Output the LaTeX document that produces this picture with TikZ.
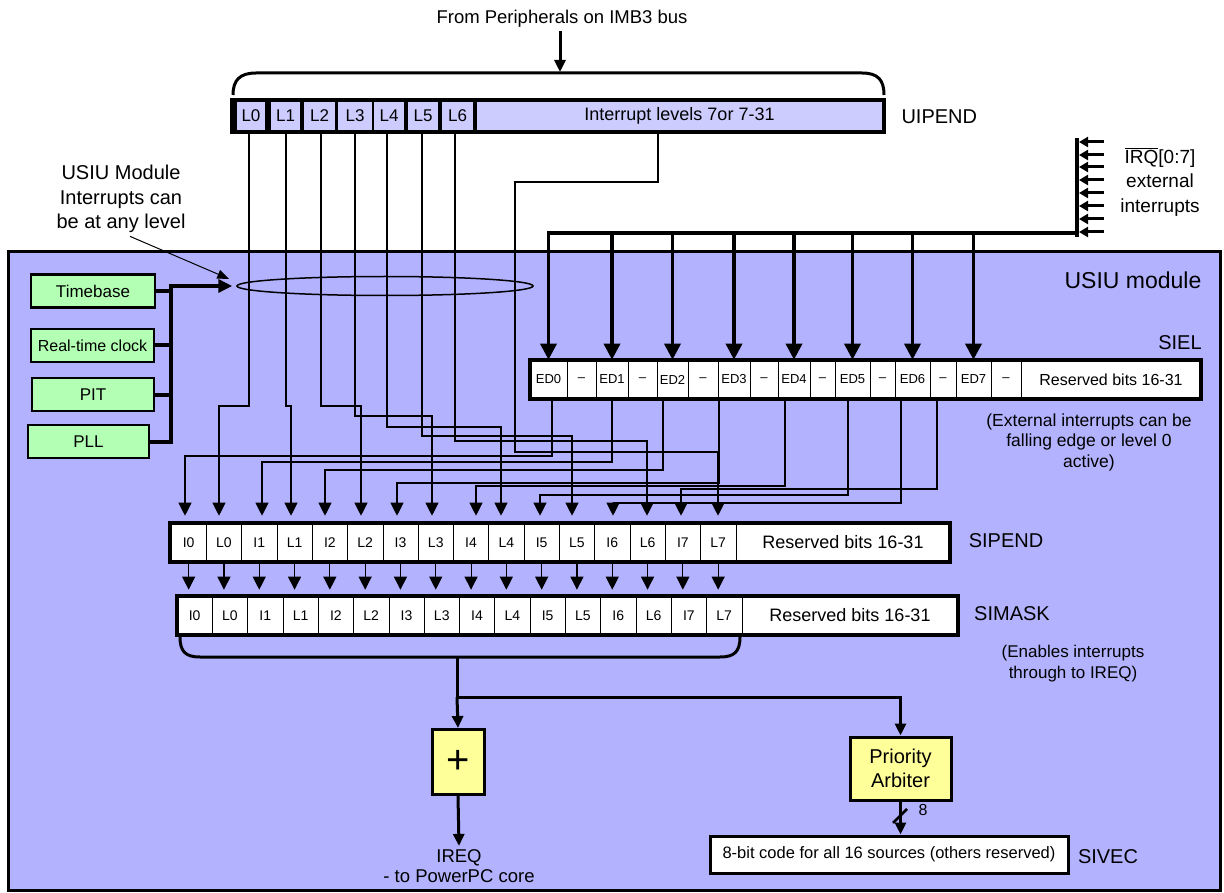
\documentclass[tikz,border=0pt]{standalone}
\usepackage{fontspec}
\setmainfont{Liberation Sans}
\usetikzlibrary{arrows.meta,shapes.geometric}
\definecolor{modbg}{RGB}{178,178,255}
\definecolor{uipcell}{RGB}{204,204,255}
\definecolor{grn}{RGB}{179,255,179}
\definecolor{ylw}{RGB}{255,255,153}
\newcommand\myfs[2]{\fontsize{#1}{#2}\selectfont}
\begin{document}
\begin{tikzpicture}[x=1pt,y=-1pt,
  wire/.style={line width=1.1pt},
  warr/.style={wire,-{Triangle[width=13pt,length=13pt]},shorten >=7pt},
  sarr/.style={wire,-{Triangle[width=13pt,length=13pt]},shorten >=6pt},
  tarr/.style={line width=3pt,-{Triangle[width=11pt,length=12pt]}},
  busarr/.style={line width=3.5pt,-{Triangle[width=16pt,length=16pt]}},
  irqarr/.style={line width=3pt,-{Triangle[width=10pt,length=9pt]}},
  ucell/.style={fill=uipcell,inner sep=0pt,minimum height=28pt,font=\myfs{17}{20}},
  pcell/.style={draw=black,line width=0.6pt,fill=white,inner sep=0pt,minimum height=39pt,minimum width=35.3pt,font=\myfs{14}{16}},
  scell/.style={draw=black,line width=0.6pt,fill=white,inner sep=0pt,minimum height=39pt,font=\myfs{13}{15}},
  greenbox/.style={draw=black,line width=2.5pt,fill=grn,inner sep=0pt,minimum height=33pt,font=\myfs{17}{20}},
  ybox/.style={draw=black,line width=3pt,fill=ylw,inner sep=0pt,align=center},
  regframe/.style={line width=3.5pt},
  lbl/.style={font=\myfs{20}{24}},
  thk/.style={line width=3pt}]
\useasboundingbox (0,0) rectangle (1224,893);
% module background
\fill[modbg] (8,252) rectangle (1220,890);
\draw[line width=3pt] (8,252) rectangle (1220,890);
\node[font=\myfs{23}{28}] (modlbl) at (1133,280) {USIU module};

% title and brace
\node[font=\myfs{18.5}{22}] (title) at (562,19) {From Peripherals on IMB3 bus};
\coordinate (bt) at (560,72);
\draw[tarr] (title.south -| bt) -- (bt);
\draw[thk] (233,95) .. controls (233,80) and (240,73) .. (256,73) -- (862,73) .. controls (878,73) and (884,80) .. (884,95);

% UIPEND
\fill[black] (230,98) rectangle (886,134);
\node[ucell,minimum width=28pt] (uL0) at (251,116) {L0};
\node[ucell,minimum width=29pt] (uL1) at (285.5,116) {L1};
\node[ucell,minimum width=31pt] (uL2) at (319.5,116) {L2};
\node[ucell,minimum width=34pt] (uL3) at (355,116) {L3};
\node[ucell,minimum width=30pt] (uL4) at (389,116) {L4};
\node[ucell,minimum width=30pt] (uL5) at (423,116) {L5};
\node[ucell,minimum width=31pt] (uL6) at (457.5,116) {L6};
\node[ucell,minimum width=405pt,font=\myfs{18}{20}] (uBig) at (679.5,116) {Interrupt levels 7or 7-31};
\node[lbl,anchor=west] (uiplbl) at (898,117) {UIPEND};

% IRQ inputs
\coordinate (irqT) at (1077,138);
\coordinate (irqB) at (1077,237);
\draw[line width=4pt] (irqT) -- (irqB);
\foreach \yy in {142,155,167,180,193,206,219,232}
  \draw[irqarr] (1104,\yy) -- (1079,\yy);
\node[font=\myfs{19}{24.5},align=center] (irqtxt) at (1160,182) {$\overline{\mbox{IRQ}}$[0:7]\\external\\interrupts};

% left sources
\node[greenbox,minimum width=124pt] (tb) at (93,291) {Timebase};
\node[greenbox,minimum width=123pt,font=\myfs{16}{18}] (rtc) at (92.5,345.5) {Real-time clock};
\node[greenbox,minimum width=122pt] (pit) at (93,394.5) {PIT};
\node[greenbox,minimum width=121pt] (pll) at (88.5,441.5) {PLL};
\coordinate (busL) at (171,286);
\draw[line width=4pt] (171,284) -- (171,444);
\foreach \b in {tb,rtc,pit,pll}
  \draw[line width=4pt] (\b.east) -- (\b.east -| busL);
\node[draw,ellipse,line width=1.5pt,minimum width=296pt,minimum height=19pt,inner sep=0pt] (ell) at (385,286) {};
\draw[line width=4pt,-{Triangle[width=13pt,length=14pt]},shorten >=4pt] (busL) -- (ell.west);
\node[font=\myfs{20}{24.5},align=center] (note) at (121,199) {USIU Module\\Interrupts can\\be at any level};
\draw[line width=1pt,-{Triangle[width=9pt,length=12pt]}] ([xshift=9pt]note.south) -- ([xshift=-7pt,yshift=7pt]ell.west);

% SIEL
\foreach \xc/\w/\nm/\tx in {548.5/37/sED0/ED0, 581.5/29/sD0/--, 612/32/sED1/ED1, 642.5/29/sD1/--, 672.5/31/sED2/ED2, 703/30/sD2/--, 734/32/sED3/ED3, 764/28/sD3/--, 794/32/sED4/ED4, 822.5/25/sD4/--, 852.5/35/sED5/ED5, 882.5/25/sD5/--, 912.5/35/sED6/ED6, 943/26/sD6/--, 973.5/35/sED7/ED7, 1006/30/sD7/--}
  \node[scell,minimum width=\w pt] (\nm) at (\xc,379.5) {\tx};
\node[scell,minimum width=180pt,font=\myfs{16}{19}] (sRes) at (1111,379.5) {Reserved bits 16-31};
\draw[regframe] (530,360) rectangle (1201,399);
\node[lbl] (siellbl) at (1180,343) {SIEL};
\node[font=\myfs{17.5}{20.5},align=center] (extnote) at (1089,442) {(External interrupts can be\\falling edge or level 0\\active)};

% external interrupt bus
\coordinate (busR) at (1077,233);
\draw[busarr] (busR) -| (sED0.north);
\foreach \n in {1,...,7}
  \draw[busarr] (sED\n.north |- busR) -- (sED\n.north);

% SIPEND and SIMASK
\foreach \i in {0,...,7} {
  \pgfmathsetmacro\xa{171+35.3*(2*\i+0.5)}
  \pgfmathsetmacro\xb{171+35.3*(2*\i+1.5)}
  \pgfmathsetmacro\xc{177+35.3*(2*\i+0.5)}
  \pgfmathsetmacro\xd{177+35.3*(2*\i+1.5)}
  \node[pcell] (pI\i) at (\xa,542.5) {I\i};
  \node[pcell] (pL\i) at (\xb,542.5) {L\i};
  \node[pcell] (mI\i) at (\xc,615.5) {I\i};
  \node[pcell] (mL\i) at (\xd,615.5) {L\i};
}
\node[pcell,minimum width=214pt,font=\myfs{18}{21}] (pRes) at (843,542.5) {Reserved bits 16-31};
\node[pcell,minimum width=216pt,font=\myfs{18}{21}] (mRes) at (850,615.5) {Reserved bits 16-31};
\draw[regframe] (170,523) rectangle (950,562);
\draw[regframe] (177,596) rectangle (958,635);
\node[lbl] (siplbl) at (1006,541) {SIPEND};
\node[lbl] (simlbl) at (1012,614) {SIMASK};
\node[font=\myfs{17}{21},align=center] (ennote) at (1073,664) {(Enables interrupts\\through to IREQ)};
\foreach \i in {0,...,7} {
  \draw[sarr] (pI\i.south) -- (pI\i.south |- mI\i.north);
  \draw[sarr] (pL\i.south) -- (pL\i.south |- mL\i.north);
}

% wires from UIPEND
\draw[warr] (uL0.south -| 249,0) |- (219,406) -- (pL0.north -| 219,0);
\draw[warr] (uL1.south -| 286,0) |- (291,406) -- (pL1.north -| 291,0);
\draw[warr] (uL2.south -| 321,0) |- (361,406) -- (pL2.north -| 361,0);
\draw[warr] (uL3.south -| 355,0) |- (432,416) -- (pL3.north -| 432,0);
\draw[warr] (uL4.south -| 387,0) |- (501,427) -- (pL4.north -| 501,0);
\draw[warr] (uL5.south -| 422,0) |- (572,436) -- (pL5.north -| 572,0);
\draw[warr] (uL6.south -| 455,0) |- (647,441) -- (pL6.north -| 647,0);
\draw[warr] (uBig.south -| 658,0) |- (515,182) |- (718,452) -- (pL7.north -| 718,0);

% wires from SIEL
\draw[warr] (sED0.south -| 552,0) |- (185,456) -- (pI0.north -| 185,0);
\draw[warr] (sED1.south -| 612,0) |- (262,462) -- (pI1.north -| 262,0);
\draw[warr] (sED2.south -| 663,0) |- (325,470) -- (pI2.north -| 325,0);
\draw[warr] (sED3.south -| 719,0) |- (397,483) -- (pI3.north -| 397,0);
\draw[warr] (sED4.south -| 785,0) |- (476,486) -- (pI4.north -| 476,0);
\draw[warr] (sED5.south -| 848,0) |- (540,495) -- (pI5.north -| 540,0);
\draw[warr] (sED6.south -| 901,0) |- (613,503) -- (pI6.north -| 613,0);
\draw[warr] (sD6.south -| 937,0) |- (681,489) -- (pI7.north -| 681,0);

% bottom part
\draw[thk] (180,637) .. controls (180,652) and (186,657) .. (200,657) -- (720,657) .. controls (734,657) and (740,652) .. (740,637);
\coordinate (brc) at (457,657);
\coordinate (jn) at (457,697);
\node[ybox,minimum width=52pt,minimum height=65pt,font=\myfs{40}{44}] (plus) at (458,762) {+};
\node[ybox,minimum width=101pt,minimum height=63pt,font=\myfs{20}{24}] (arb) at (900.5,768.5) {Priority\\Arbiter};
\node[draw=black,line width=3pt,fill=white,inner sep=0pt,minimum width=358pt,minimum height=37pt,font=\myfs{16.5}{20}] (sivec) at (889,854.5) {8-bit code for all 16 sources (others reserved)};
\node[lbl] (siveclbl) at (1108,857) {SIVEC};
\node[font=\myfs{18.5}{20},align=center] (ireq) at (459,866) {IREQ\\- to PowerPC core};
\draw[thk] (brc) -- (jn);
\draw[tarr] (jn) -- (plus.north);
\draw[tarr] (jn) -| (arb.north);
\draw[tarr] (plus.south) -- (ireq.north);
\draw[tarr] (arb.south) -- (arb.south |- sivec.north);
\draw[line width=2.5pt] (893,823) -- (907,809);
\node[font=\myfs{16}{18}] (eight) at (923,810) {8};
\end{tikzpicture}
\end{document}
